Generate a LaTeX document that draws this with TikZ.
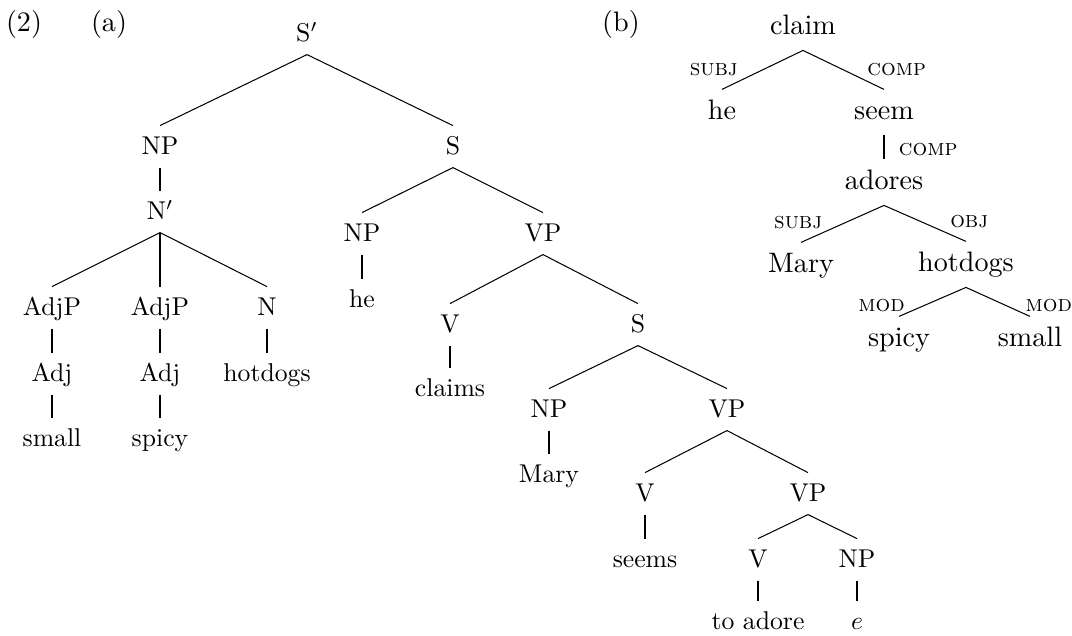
\documentclass[tikz,border=0pt]{standalone}

\tikzstyle{cat} = [font=\fontsize{10}{12}\selectfont, anchor=base, text height=6.83pt, text depth=0.3pt, inner xsep=1pt, inner ysep=4.4pt]
\tikzstyle{word} = [font=\fontsize{10.95}{13.6}\selectfont, anchor=base, text height=7.5pt, text depth=1.6pt, inner xsep=1pt, inner ysep=4.2pt]
\tikzstyle{exnum} = [font=\fontsize{10.95}{13.6}\selectfont, anchor=base, inner sep=0pt]
\tikzstyle{branch} = [line width=0.4pt]
\tikzstyle{unary} = [line width=0.8pt]
\tikzstyle{rel} = [font=\fontsize{9}{11}\selectfont\scshape, inner sep=0pt]
\tikzstyle{rell} = [rel, anchor=base east]
\tikzstyle{relr} = [rel, anchor=base west]

\begin{document}
\begin{tikzpicture}[x=0.389pt, y=-0.389pt]
\useasboundingbox (0,0) rectangle (1072,636);

\node (ex) [exnum] at (24,32) {(2)};
\node (parta) [exnum] at (109,32) {(a)};
\node (partb) [exnum] at (621,32) {(b)};

% (a) phrase structure tree
\node (sbar) [cat] at (307,42) {S$'$};
\node (np1) [cat] at (160,155) {NP};
\node (nbar) [cat] at (160,220) {N$'$};
\node (adjp1) [cat] at (52,316) {AdjP};
\node (adjp2) [cat] at (160,316) {AdjP};
\node (n1) [cat] at (267,316) {N};
\node (adj1) [cat] at (52,382) {Adj};
\node (adj2) [cat] at (160,382) {Adj};
\node (hotdogs1) [cat] at (267,382) {hotdogs};
\node (small1) [cat] at (52,447) {small};
\node (spicy1) [cat] at (160,447) {spicy};
\node (s1) [cat] at (453,155) {S};
\node (np2) [cat] at (362,242) {NP};
\node (vp1) [cat] at (543,242) {VP};
\node (he1) [cat] at (362,308) {he};
\node (v1) [cat] at (450,333) {V};
\node (s2) [cat] at (638,333) {S};
\node (claims) [cat] at (450,397) {claims};
\node (np3) [cat] at (549,418) {NP};
\node (vp2) [cat] at (727,418) {VP};
\node (mary1) [cat] at (549,483) {Mary};
\node (v2) [cat] at (645,502) {V};
\node (vp3) [cat] at (808,502) {VP};
\node (seems) [cat] at (645,568) {seems};
\node (v3) [cat] at (758,568) {V};
\node (np4) [cat] at (857,568) {NP};
\node (toadore) [cat] at (758,630) {to adore};
\node (gap) [cat] at (857,630) {$e$};

\draw [branch] (sbar.south) -- (np1.north);
\draw [branch] (sbar.south) -- (s1.north);
\draw [unary] (np1.south) -- (nbar.north);
\draw [branch] (nbar.south) -- (adjp1.north);
\draw [unary] (nbar.south) -- (adjp2.north);
\draw [branch] (nbar.south) -- (n1.north);
\draw [unary] (adjp1.south) -- (adj1.north);
\draw [unary] (adjp2.south) -- (adj2.north);
\draw [unary] (n1.south) -- (hotdogs1.north);
\draw [unary] (adj1.south) -- (small1.north);
\draw [unary] (adj2.south) -- (spicy1.north);
\draw [branch] (s1.south) -- (np2.north);
\draw [branch] (s1.south) -- (vp1.north);
\draw [unary] (np2.south) -- (he1.north);
\draw [branch] (vp1.south) -- (v1.north);
\draw [branch] (vp1.south) -- (s2.north);
\draw [unary] (v1.south) -- (claims.north);
\draw [branch] (s2.south) -- (np3.north);
\draw [branch] (s2.south) -- (vp2.north);
\draw [unary] (np3.south) -- (mary1.north);
\draw [branch] (vp2.south) -- (v2.north);
\draw [branch] (vp2.south) -- (vp3.north);
\draw [unary] (v2.south) -- (seems.north);
\draw [branch] (vp3.south) -- (v3.north);
\draw [branch] (vp3.south) -- (np4.north);
\draw [unary] (v3.south) -- (toadore.north);
\draw [unary] (np4.south) -- (gap.north);

% (b) dependency tree
\node (claim) [word] at (803,35) {claim};
\node (he2) [word] at (722,120) {he};
\node (seem) [word] at (884,120) {seem};
\node (adores) [word] at (884,190) {adores};
\node (mary2) [word] at (801,273) {Mary};
\node (hotdogs2) [word] at (966,272) {hotdogs};
\node (spicy2) [word] at (899,347) {spicy};
\node (small2) [word] at (1030,347) {small};

\draw [branch] (claim.south) -- node[rell, pos=.65, xshift=-4.7pt] {subj} (he2.north);
\draw [branch] (claim.south) -- node[relr, pos=.65, xshift=4.4pt] {comp} (seem.north);
\draw [unary] (seem.south) -- node[relr, pos=.85, xshift=5.4pt] {comp} (adores.north);
\draw [branch] (adores.south) -- node[rell, pos=.63, xshift=-3.5pt] {subj} (mary2.north);
\draw [branch] (adores.south) -- node[relr, pos=.62, xshift=5.8pt] {obj} (hotdogs2.north);
\draw [branch] (hotdogs2.south) -- node[rell, pos=.83, xshift=-2pt] {mod} (spicy2.north);
\draw [branch] (hotdogs2.south) -- node[relr, pos=.83, xshift=2.3pt] {mod} (small2.north);
\end{tikzpicture}
\end{document}
